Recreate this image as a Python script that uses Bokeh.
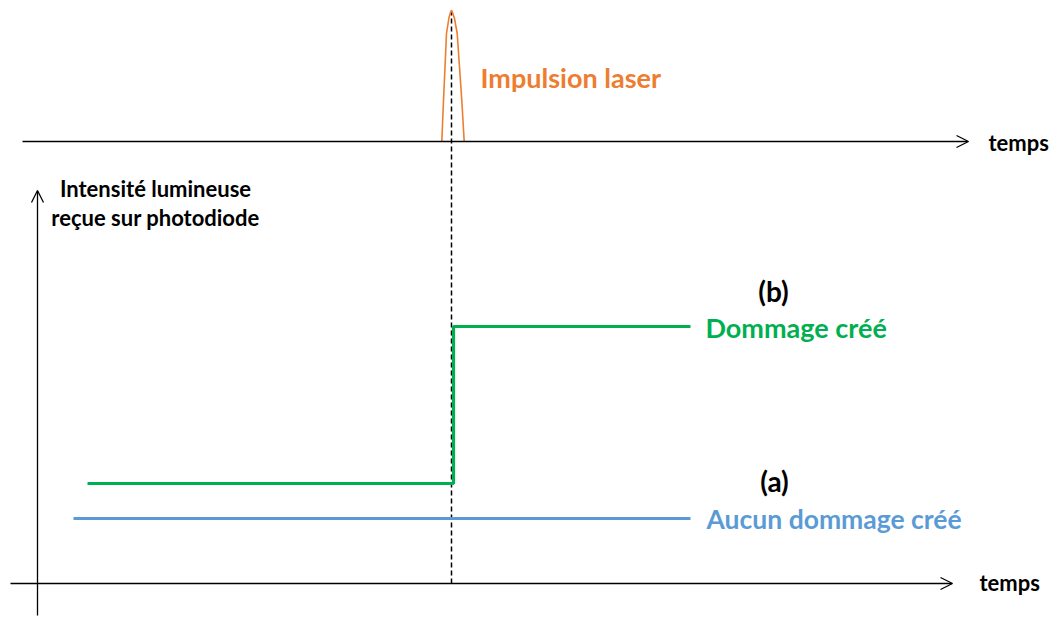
from bokeh.plotting import figure
from bokeh.models import Range1d, ColumnDataSource, Arrow, OpenHead
from bokeh.core.properties import value
from bokeh.embed import file_html
from bokeh.resources import INLINE

# ---- data (arbitrary units: time t, intensity I) ----
# time axes (start t, start I, end t, end I)
axis_t0 = [-2.7, 0.0, -1.5]
axis_i0 = [0.0, -3.2, 44.2]
axis_t1 = [91.5, 0.0, 93.1]
axis_i1 = [0.0, 39.3, 44.2]

# laser pulse on the upper time line
pulse_t = [40.43, 40.6, 40.9, 41.15, 41.3, 41.4, 41.5, 41.7, 41.97, 42.43, 42.67]
pulse_i = [44.2, 48.3, 55.0, 56.6, 57.1, 57.3, 57.1, 56.5, 55.0, 48.3, 44.2]

# pulse instant (dashed marker)
marker_t = [41.4, 41.4]
marker_i = [57.3, -0.2]

# (b) damage created: step signal
green_t = [5.0, 41.6, 41.6, 65.3]
green_i = [10.0, 10.0, 25.7, 25.7]

# (a) no damage: flat signal
blue_t = [3.6, 65.3]
blue_i = [6.5, 6.5]

# labels
left_labels = ["Impulsion laser", "temps", "temps", "Dommage créé", "Aucun dommage créé"]
left_t = [44.3, 95.1, 94.2, 66.8, 66.9]
left_i = [50.6, 44.1, 0.1, 25.6, 6.5]
left_colors = ["#ED7D31", "#000000", "#000000", "#00B050", "#5B9BD5"]
left_sizes = ["27px", "22px", "22px", "27px", "26.5px"]

center_labels = ["Intensité lumineuse", "reçue sur photodiode", "(b)", "(a)"]
center_t = [11.8, 11.8, 73.6, 73.7]
center_i = [39.5, 36.6, 29.3, 10.3]
center_sizes = ["22px", "22px", "28px", "28px"]

p = figure(width=1053, height=617, output_backend="svg", toolbar_location=None,
           x_range=Range1d(-3.7, 101.6), y_range=Range1d(-3.4, 58.3),
           min_border=0)
p.xaxis.visible = False
p.yaxis.visible = False
p.grid.visible = False
p.outline_line_color = None
p.background_fill_color = "white"
p.border_fill_color = "white"

# axes with arrows
axes_src = ColumnDataSource(dict(x0=axis_t0, y0=axis_i0, x1=axis_t1, y1=axis_i1))
p.add_layout(Arrow(end=OpenHead(size=12, line_width=1.3, line_color="black"),
                   x_start="x0", y_start="y0", x_end="x1", y_end="y1",
                   source=axes_src, line_width=1.3, line_color="black"))

# dashed marker
p.line(marker_t, marker_i, line_color="black", line_width=1.5, line_dash="5 3")

# pulse
p.line(pulse_t, pulse_i, line_color="#ED7D31", line_width=1.6)

# signals
p.line(blue_t, blue_i, line_color="#5B9BD5", line_width=3.2)
p.line(green_t, green_i, line_color="#00B050", line_width=3.2)

# labels
ls = ColumnDataSource(dict(x=left_t, y=left_i, text=left_labels, c=left_colors, s=left_sizes))
p.text(x="x", y="y", text="text", source=ls, text_color="c", text_font_size="s",
       text_font=value("Lato"), text_font_style="bold",
       text_align="left", text_baseline="middle")

cs = ColumnDataSource(dict(x=center_t, y=center_i, text=center_labels, s=center_sizes))
p.text(x="x", y="y", text="text", source=cs, text_color="black", text_font_size="s",
       text_font=value("Lato"), text_font_style="bold",
       text_align="center", text_baseline="middle")

open("out.html", "w").write(file_html(p, INLINE))
